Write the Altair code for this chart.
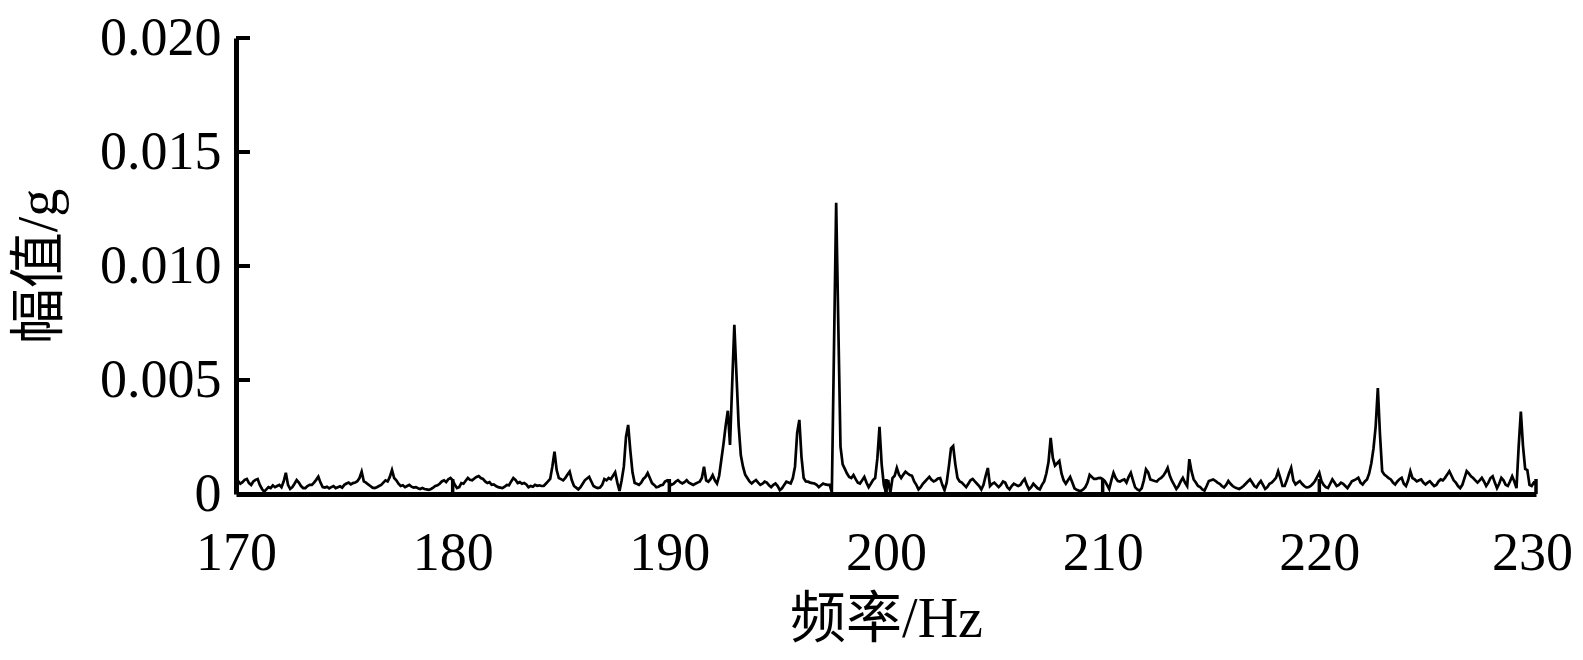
import altair as alt
import numpy as np
import pandas as pd

# Spectrum amplitude, units of 1e-5 g, sampled every 0.1 Hz
f_start = 170.0
f_step = 0.1

amp_170_180 = [
    50, 57, 45, 52, 62, 66, 48, 40, 55, 62,
    66, 40, 22, 10, 20, 30, 26, 38, 30, 35,
    40, 30, 55, 93, 40, 22, 30, 45, 61, 50,
    35, 26, 26, 35, 40, 40, 50, 62, 76, 50,
    30, 28, 32, 25, 30, 35, 26, 30, 34, 28,
    40, 46, 50, 42, 48, 50, 56, 70, 98, 55,
    50, 42, 35, 28, 26, 30, 35, 40, 50, 60,
    55, 75, 105, 70, 60, 45, 35, 38, 30, 35,
    40, 32, 28, 30, 25, 22, 26, 22, 20, 18,
    22, 28, 35, 38, 45, 55, 60, 52, 65, 70,
]
amp_180_190 = [
    60, 40, 26, 30, 48, 45, 58, 70, 62, 60,
    68, 75, 79, 70, 66, 55, 48, 52, 40, 42,
    35, 30, 28, 26, 32, 40, 38, 55, 70, 62,
    48, 52, 45, 48, 42, 30, 35, 32, 40, 36,
    38, 35, 35, 45, 55, 66, 120, 186, 105, 70,
    65, 60, 70, 85, 98, 60, 35, 28, 20, 30,
    45, 60, 68, 75, 55, 35, 30, 26, 28, 40,
    66, 60, 70, 65, 80, 95, 50, 13, 60, 120,
    250, 303, 190, 95, 48, 45, 40, 50, 66, 75,
    92, 70, 48, 40, 30, 32, 38, 40, 55, 60,
]
amp_190_200 = [
    50, 40, 45, 55, 61, 52, 46, 52, 61, 50,
    45, 40, 45, 50, 54, 70, 120, 60, 54, 65,
    83, 60, 46, 80, 150, 220, 300, 365, 215, 480,
    742, 520, 300, 170, 120, 85, 70, 55, 46, 55,
    61, 50, 40, 45, 54, 50, 38, 30, 40, 46,
    35, 17, 25, 40, 54, 50, 46, 70, 120, 268,
    325, 162, 70, 55, 54, 50, 48, 46, 40, 30,
    38, 46, 42, 40, 40, 7, 641, 1277, 734, 208,
    130, 110, 90, 75, 70, 83, 65, 50, 46, 60,
    75, 50, 30, 45, 61, 70, 155, 295, 130, 40,
]
amp_200_210 = [
    7, 61, 5, 70, 80, 114, 85, 70, 85, 98,
    90, 83, 80, 55, 40, 20, 30, 45, 55, 65,
    75, 62, 55, 60, 68, 70, 40, 17, 50, 120,
    200, 210, 130, 70, 55, 50, 40, 30, 45, 60,
    66, 55, 45, 35, 20, 40, 80, 114, 35, 45,
    50, 40, 30, 40, 55, 50, 30, 20, 35, 45,
    40, 35, 40, 55, 66, 40, 20, 30, 45, 35,
    25, 20, 40, 55, 90, 140, 246, 158, 125, 135,
    145, 90, 60, 45, 60, 75, 50, 25, 18, 15,
    14, 20, 30, 50, 84, 75, 66, 66, 70, 71,
]
amp_210_220 = [
    65, 57, 40, 22, 60, 93, 70, 57, 55, 60,
    64, 50, 75, 93, 60, 29, 20, 15, 25, 60,
    108, 95, 64, 60, 57, 55, 65, 71, 80, 95,
    115, 80, 57, 40, 22, 35, 55, 71, 50, 35,
    153, 100, 64, 50, 35, 30, 20, 15, 35, 57,
    60, 64, 58, 50, 45, 35, 29, 40, 57, 45,
    35, 29, 25, 22, 28, 35, 45, 55, 64, 50,
    35, 29, 45, 57, 40, 22, 30, 45, 50, 60,
    71, 100, 70, 35, 35, 60, 90, 115, 60, 42,
    50, 57, 45, 35, 29, 30, 35, 45, 57, 75,
]
amp_220_230 = [
    93, 56, 40, 30, 26, 45, 64, 50, 35, 40,
    50, 45, 35, 26, 40, 56, 60, 65, 71, 50,
    42, 55, 64, 90, 135, 200, 296, 465, 260, 100,
    85, 78, 70, 64, 50, 42, 55, 65, 71, 45,
    35, 60, 100, 70, 64, 55, 60, 64, 50, 42,
    50, 56, 45, 35, 40, 55, 64, 60, 71, 85,
    100, 80, 60, 50, 35, 26, 40, 70, 100, 90,
    78, 70, 60, 50, 60, 71, 55, 35, 50, 70,
    78, 50, 26, 45, 71, 60, 40, 35, 55, 78,
    55, 26, 208, 361, 210, 110, 105, 40, 35, 50,
    45,
]

x_ticks = [170, 180, 190, 200, 210, 220, 230]
y_ticks = [0, 0.005, 0.010, 0.015, 0.020]

amp = amp_170_180 + amp_180_190 + amp_190_200 + amp_200_210 + amp_210_220 + amp_220_230
freq = np.round(f_start + f_step * np.arange(len(amp)), 1)
df = pd.DataFrame({"freq": freq, "amp": np.array(amp) * 1e-5})

W, H = 1300, 456
FONT = "Liberation Serif, Times New Roman, Noto Sans CJK SC"

x_scale = alt.Scale(domain=[170, 230], nice=False, zero=False)
y_scale = alt.Scale(domain=[0, 0.020], nice=False)

line = alt.Chart(df).mark_line(color="black", strokeWidth=2.7, strokeJoin="miter").encode(
    x=alt.X("freq:Q", scale=x_scale,
            axis=alt.Axis(values=x_ticks, title="频率/Hz", format="d", ticks=False,
                          tickSize=0, grid=False, labelPadding=32, titlePadding=12,
                          labelFlush=False,
                          labelOffset={"expr": "datum.value == 230 ? -4 : 0"})),
    y=alt.Y("amp:Q", scale=y_scale,
            axis=alt.Axis(values=y_ticks, title="幅值/g", ticks=False, tickSize=0,
                          grid=False, labelPadding=15, titlePadding=31,
                          labelExpr="datum.value == 0 ? '0' : format(datum.value, '.3f')")),
)

xt = alt.Chart(pd.DataFrame({"t": x_ticks[1:]})).mark_rule(color="black", strokeWidth=3.5).encode(
    x=alt.X("t:Q", scale=x_scale), y=alt.value(H), y2=alt.value(H - 15)
)
yt = alt.Chart(pd.DataFrame({"t": y_ticks[1:]})).mark_rule(color="black", strokeWidth=4).encode(
    y=alt.Y("t:Q", scale=y_scale), x=alt.value(0), x2=alt.value(14)
)

chart = alt.layer(line, xt, yt).properties(
    width=W, height=H,
    autosize=alt.AutoSizeParams(type="none"),
    padding={"left": 228, "top": 30, "right": 39, "bottom": 166},
).configure_view(stroke=None).configure_axis(
    domainColor="black", domainWidth=5,
    labelFont=FONT, labelFontSize=54, labelColor="black",
    titleFont=FONT, titleFontSize=56, titleColor="black", titleFontWeight="normal",
)

chart.save("out.html", embed_options={"renderer": "svg", "actions": False})
